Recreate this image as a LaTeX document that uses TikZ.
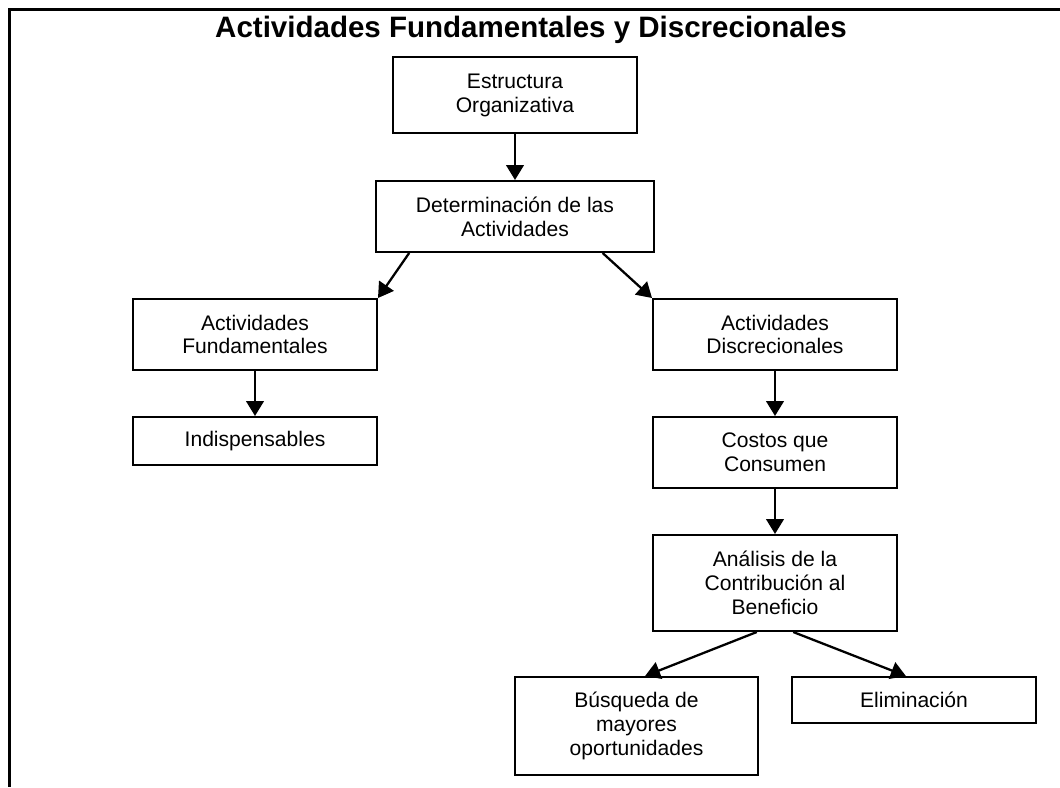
\documentclass[tikz,border=0pt]{standalone}
\usepackage{fontspec}
\setmainfont{Liberation Sans}
\usetikzlibrary{arrows.meta,calc}

\begin{document}
\begin{tikzpicture}[x=0.02cm,y=-0.02cm,
  box/.style={draw,line width=1.15pt,inner sep=0pt,align=center,
    font=\fontsize{12}{13.6}\selectfont},
  link/.style={line width=1.3pt,-{Triangle[length=8.5pt,width=10pt]}},
  frameline/.style={line width=1.2pt}]
  \useasboundingbox (0,0) rectangle (1060,787);

  % open frame: top edge and left edge
  \draw[frameline] (1060,9.5) -- (9.5,9.5) -- (9.5,787);

  \node[font=\fontsize{16.8}{19}\selectfont\bfseries] (title) at (531,30)
    {Actividades Fundamentales y Discrecionales};

  \node[box,minimum width=4.88cm,minimum height=1.52cm] (E) at (515,95)
    {Estructura\\Organizativa};
  \node[box,minimum width=5.56cm,minimum height=1.42cm] (D) at (515,216.5)
    {Determinación de las\\Actividades};
  \node[box,minimum width=4.88cm,minimum height=1.42cm] (AF) at (255,334.5)
    {Actividades\\Fundamentales};
  \node[box,minimum width=4.88cm,minimum height=1.42cm] (AD) at (775,334.5)
    {Actividades\\Discrecionales};
  \node[box,minimum width=4.88cm,minimum height=0.96cm] (I) at (255,441)
    {Indispensables};
  \node[box,minimum width=4.88cm,minimum height=1.42cm] (C) at (775,452.5)
    {Costos que\\Consumen};
  \node[box,minimum width=4.88cm,minimum height=1.92cm] (A) at (775,583)
    {Análisis de la\\Contribución al\\Beneficio};
  \node[box,minimum width=4.86cm,minimum height=1.96cm] (B) at (636.5,726)
    {Búsqueda de\\mayores\\oportunidades};
  \node[box,minimum width=4.88cm,minimum height=0.92cm] (L) at (914,700)
    {Eliminación};

  \draw[link] (E) -- (D);
  \draw[link] ($(D.south west)!0.122!(D.south east)$) -- (AF.north east);
  \draw[link] ($(D.south west)!0.813!(D.south east)$) -- (AD.north west);
  \draw[link] (AF) -- (I);
  \draw[link] (AD) -- (C);
  \draw[link] (C) -- (A);
  \draw[link] ($(A.south west)!0.426!(A.south east)$) -- ($(B.north west)!0.535!(B.north east)$);
  \draw[link] ($(A.south west)!0.574!(A.south east)$) -- ($(L.north west)!0.467!(L.north east)$);
\end{tikzpicture}
\end{document}
